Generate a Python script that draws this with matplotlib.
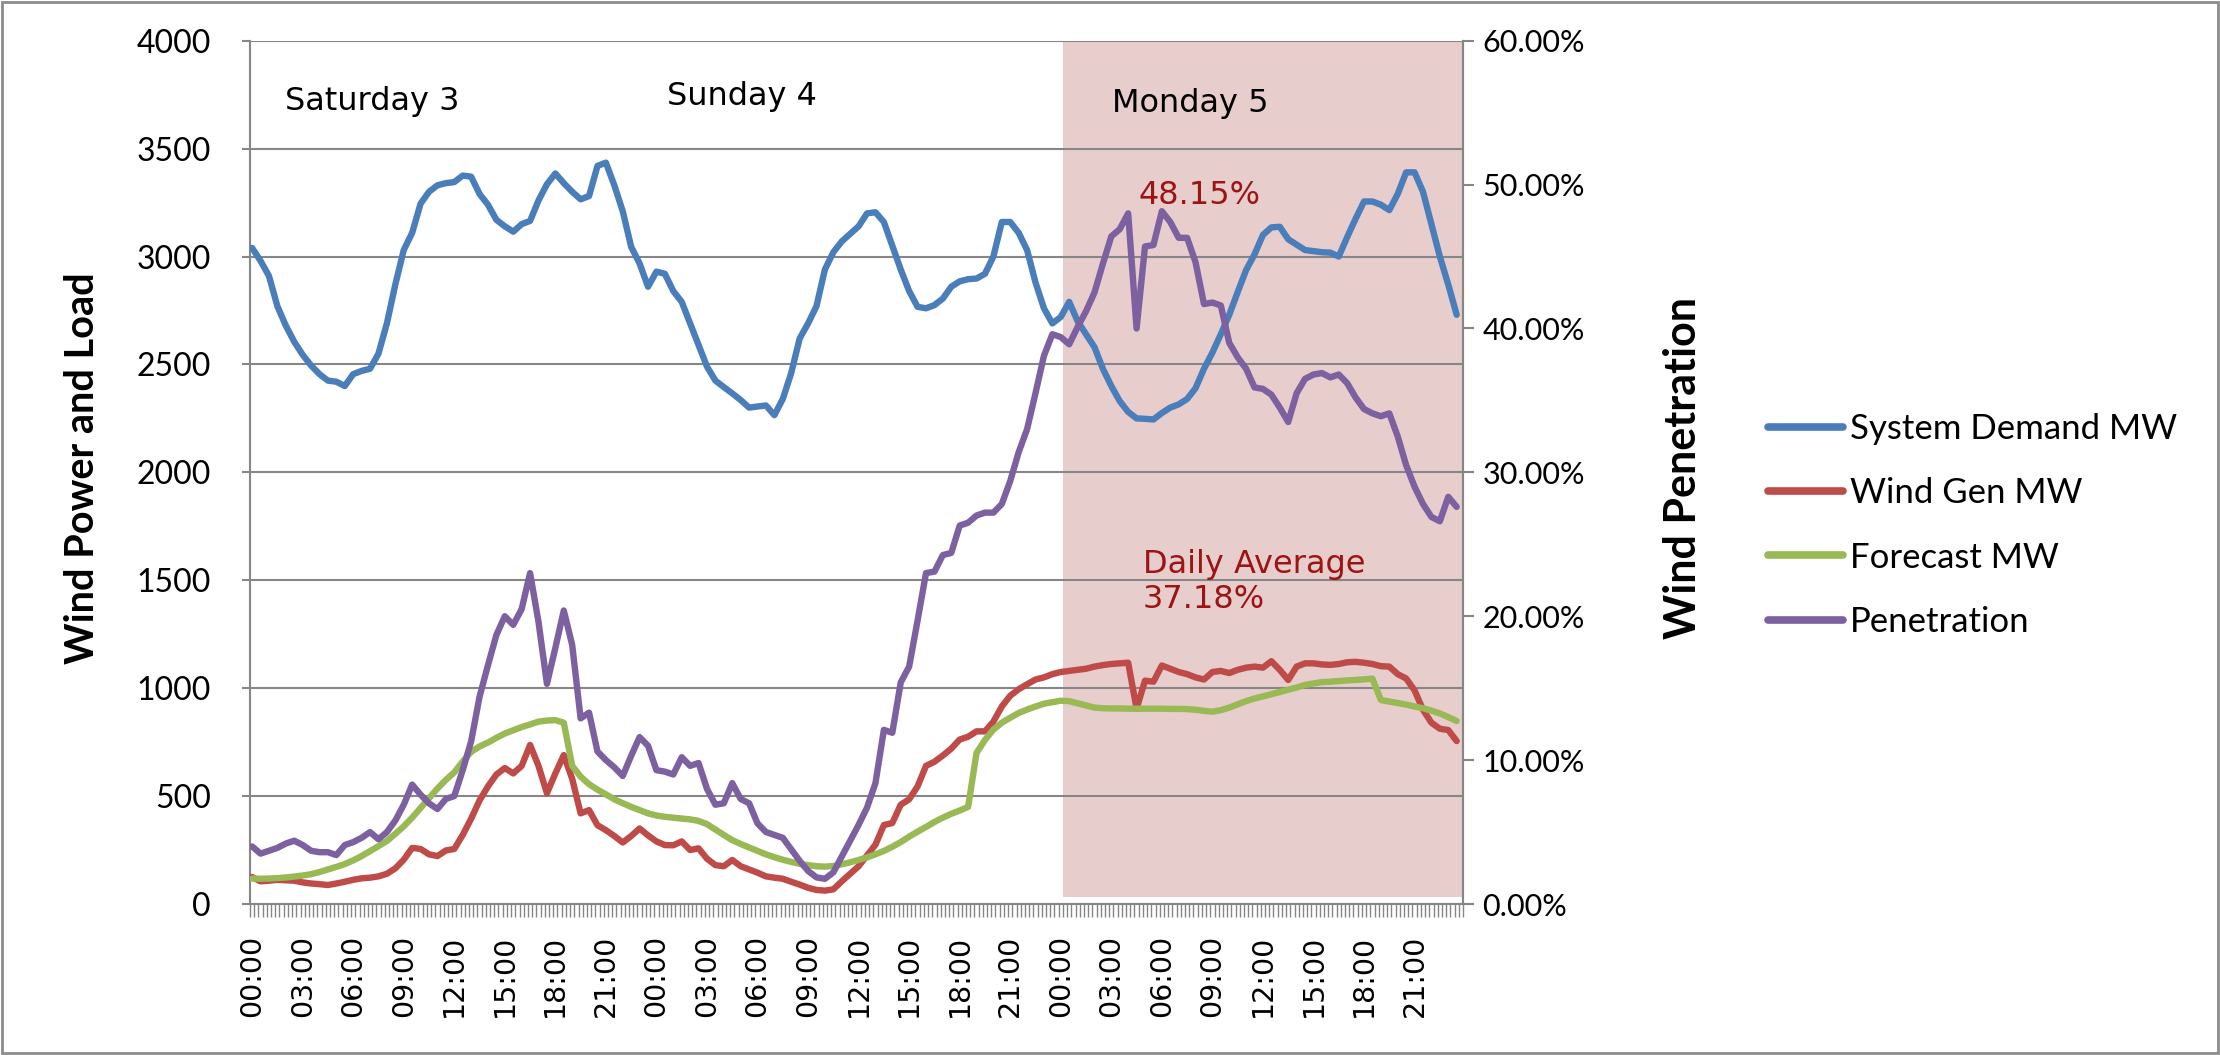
import numpy as np
import matplotlib
matplotlib.use("Agg")
import matplotlib.pyplot as plt
from matplotlib.patches import Rectangle
from matplotlib.ticker import FixedLocator, FuncFormatter

# ---------------------------------------------------------------------------
# Half-hourly readings, Saturday 3 00:00 through Monday 5 23:30 (144 values)
# ---------------------------------------------------------------------------
demand_mw = [
    # Saturday 3
    3040, 2980, 2910, 2770, 2680, 2605, 2545, 2495, 2455, 2425, 2420, 2400,
    2455, 2470, 2480, 2550, 2690, 2870, 3030, 3110, 3245, 3300, 3330, 3340,
    3345, 3375, 3370, 3290, 3240, 3170, 3140, 3115, 3150, 3165, 3260, 3335,
    3385, 3340, 3300, 3265, 3280, 3420, 3435, 3330, 3210, 3045, 2968, 2860,
    # Sunday 4
    2930, 2920, 2840, 2790, 2690, 2590, 2490, 2425, 2395, 2366, 2335, 2300,
    2305, 2310, 2265, 2340, 2460, 2620, 2690, 2770, 2940, 3020, 3070, 3105,
    3140, 3200, 3205, 3160, 3050, 2940, 2840, 2767, 2760, 2775, 2805, 2860,
    2885, 2895, 2898, 2920, 3000, 3160, 3160, 3110, 3030, 2880, 2760, 2690,
    # Monday 5
    2720, 2790, 2700, 2640, 2580, 2480, 2400, 2330, 2280, 2250, 2248, 2245,
    2275, 2300, 2315, 2340, 2390, 2480, 2555, 2640, 2730, 2835, 2937, 3010,
    3100, 3135, 3138, 3080, 3055, 3030, 3025, 3020, 3018, 3000, 3090, 3175,
    3255, 3255, 3240, 3215, 3290, 3390, 3390, 3300, 3150, 3000, 2870, 2730,
]

wind_gen_mw = [
    # Saturday 3
    125, 105, 108, 112, 110, 108, 100, 95, 92, 88, 95, 103,
    112, 119, 122, 128, 140, 165, 205, 260, 255, 230, 222, 248,
    255, 320, 395, 480, 545, 600, 630, 605, 640, 737, 640, 513,
    605, 690, 580, 420, 435, 365, 342, 315, 285, 315, 350, 318,
    # Sunday 4
    290, 273, 272, 290, 250, 258, 210, 180, 175, 204, 175, 160,
    145, 128, 122, 117, 103, 90, 75, 65, 62, 68, 105, 140,
    175, 225, 275, 366, 375, 460, 485, 545, 640, 659, 688, 720,
    762, 775, 800, 800, 845, 915, 965, 995, 1018, 1040, 1050, 1065,
    # Monday 5
    1075, 1080, 1085, 1090, 1100, 1107, 1112, 1115, 1118, 905, 1035, 1030,
    1105, 1090, 1075, 1065, 1050, 1040, 1075, 1080, 1070, 1085, 1095, 1100,
    1095, 1125, 1085, 1038, 1100, 1115, 1115, 1110, 1108, 1112, 1120, 1122,
    1118, 1112, 1102, 1100, 1065, 1045, 990, 900, 840, 812, 806, 755,
]

forecast_mw = [
    # Saturday 3
    118, 117, 118, 120, 123, 127, 132, 138, 148, 160, 172, 185,
    202, 222, 245, 268, 292, 325, 360, 400, 445, 490, 535, 575,
    610, 660, 705, 730, 748, 770, 790, 805, 820, 832, 845, 850,
    852, 840, 640, 590, 555, 530, 508, 485, 467, 450, 435, 420,
    # Sunday 4
    410, 404, 400, 396, 392, 385, 370, 345, 320, 296, 278, 262,
    246, 230, 217, 205, 195, 186, 180, 175, 173, 176, 184, 193,
    204, 216, 230, 246, 265, 287, 312, 335, 357, 380, 400, 418,
    433, 450, 700, 760, 808, 840, 863, 885, 901, 915, 928, 935,
    # Monday 5
    942, 940, 930, 920, 910, 907, 906, 906, 905, 905, 905, 905,
    905, 904, 904, 903, 900, 895, 891, 898, 910, 925, 940, 952,
    962, 972, 982, 993, 1003, 1015, 1022, 1028, 1030, 1033, 1036, 1038,
    1041, 1044, 945, 938, 931, 924, 915, 907, 896, 883, 866, 848,
]

penetration_pct = [
    # Saturday 3
    4.0, 3.5, 3.7, 3.9, 4.2, 4.4, 4.1, 3.7, 3.6, 3.6, 3.4, 4.1,
    4.3, 4.6, 5.0, 4.5, 5.0, 5.8, 6.9, 8.3, 7.6, 7.0, 6.6, 7.3,
    7.5, 9.3, 11.3, 14.4, 16.6, 18.7, 20.0, 19.4, 20.5, 23.0, 19.6, 15.3,
    17.8, 20.4, 18.0, 12.9, 13.3, 10.6, 10.0, 9.5, 8.9, 10.3, 11.6, 11.0,
    # Sunday 4
    9.3, 9.2, 9.0, 10.2, 9.6, 9.8, 8.0, 6.9, 7.0, 8.4, 7.3, 7.0,
    5.6, 5.0, 4.8, 4.6, 3.8, 3.0, 2.3, 1.85, 1.75, 2.2, 3.3, 4.4,
    5.5, 6.7, 8.4, 12.1, 11.9, 15.4, 16.5, 19.7, 23.0, 23.1, 24.25, 24.4,
    26.3, 26.5, 27.0, 27.2, 27.2, 27.8, 29.4, 31.4, 33.0, 35.5, 38.1, 39.6,
    # Monday 5
    39.4, 38.9, 40.1, 41.2, 42.5, 44.5, 46.4, 46.9, 48.0, 40.0, 45.7, 45.8,
    48.15, 47.4, 46.3, 46.3, 44.6, 41.7, 41.8, 41.6, 39.0, 38.0, 37.2, 35.9,
    35.8, 35.4, 34.5, 33.5, 35.5, 36.5, 36.8, 36.9, 36.6, 36.8, 36.2, 35.2,
    34.4, 34.1, 33.9, 34.1, 32.5, 30.5, 29.0, 27.8, 26.9, 26.6, 28.3, 27.6,
]

series_names = ["System Demand MW", "Wind Gen MW", "Forecast MW", "Penetration"]
day_names = ["Saturday 3", "Sunday 4", "Monday 5"]
hour_labels = ["00:00", "03:00", "06:00", "09:00", "12:00", "15:00", "18:00", "21:00"]
peak_label = "48.15%"
average_label = "Daily Average\n37.18%"

# ---------------------------------------------------------------------------
C_DEMAND = "#4a7ebb"
C_WIND = "#be4b48"
C_FORECAST = "#98b954"
C_PEN = "#7d60a0"
C_GRID = "#868686"
C_NOTE = "#9c1414"
C_SHADE = "#e8cdcd"

TICK_FONT = "Lato"
SLOTS_PER_DAY = 96            # 15-minute category slots on the axis
n_slots = SLOTS_PER_DAY * len(day_names)
x = np.arange(len(demand_mw)) * 2 + 0.5   # half-hour samples at slot centres

W, H = 2220, 1055
fig = plt.figure(figsize=(W / 100, H / 100), dpi=100)
fig.patch.set_facecolor("white")

left, right, top, bottom = 250, 1463, 40.7, 904
ax = fig.add_axes([left / W, 1 - bottom / H, (right - left) / W, (bottom - top) / H])
ax2 = ax.twinx()

# Monday highlight
ax.axvspan(SLOTS_PER_DAY * 2 + 1, n_slots, ymin=0.008, ymax=1.0,
           facecolor=C_SHADE, edgecolor="none", zorder=0.2)

lw = 4.6
style = dict(lw=lw, solid_joinstyle="round", solid_capstyle="round", zorder=3)
ax.plot(x, demand_mw, color=C_DEMAND, label=series_names[0], **style)
ax.plot(x, wind_gen_mw, color=C_WIND, label=series_names[1], **style)
ax.plot(x, forecast_mw, color=C_FORECAST, label=series_names[2], **style)
ax2.plot(x, penetration_pct, color=C_PEN, label=series_names[3], **style)

# primary axis
ax.set_xlim(0, n_slots)
ax.set_ylim(0, 4000)
ax.set_yticks(np.arange(0, 4001, 500))
ax.set_axisbelow(True)
ax.yaxis.grid(True, color=C_GRID, lw=1.5)
ax.xaxis.grid(False)
ax.spines["top"].set_visible(False)
for s in ["left", "bottom", "right"]:
    ax.spines[s].set_color(C_GRID)
    ax.spines[s].set_linewidth(1.5)
ax.tick_params(axis="y", which="major", length=6, width=1.5, color=C_GRID,
               pad=22, labelsize=23)
for t in ax.get_yticklabels():
    t.set_fontfamily(TICK_FONT)

# category axis: a tick between every slot, labels every 3 hours
ax.xaxis.set_minor_locator(FixedLocator(np.arange(0, n_slots + 1, 1)))
major_pos = np.arange(0, n_slots, 12) + 0.5
ax.set_xticks(major_pos)
ax.set_xticklabels(hour_labels * len(day_names), rotation=90,
                   fontfamily="DejaVu Sans", fontsize=20.5)
ax.tick_params(axis="x", which="minor", length=9.5, width=1.0, color=C_GRID)
ax.tick_params(axis="x", which="major", length=0, pad=22)

# secondary axis
ax2.set_ylim(0, 60)
ax2.set_yticks(np.arange(0, 61, 10))
ax2.yaxis.set_major_formatter(FuncFormatter(lambda v, p: f"{v:.2f}%"))
for s in ["top", "left", "bottom"]:
    ax2.spines[s].set_visible(False)
ax2.spines["right"].set_color(C_GRID)
ax2.spines["right"].set_linewidth(1.5)
ax2.tick_params(axis="y", length=8, width=1.5, color=C_GRID, pad=6, labelsize=22)
for t in ax2.get_yticklabels():
    t.set_fontfamily(TICK_FONT)

# axis titles
fig.text(83 / W, 1 - 468 / H, "Wind Power and Load", rotation=90,
         ha="center", va="center", fontsize=28.5, fontweight="bold", fontfamily=TICK_FONT)
fig.text(1683 / W, 1 - 468 / H, "Wind Penetration", rotation=90,
         ha="center", va="center", fontsize=31, fontweight="bold", fontfamily=TICK_FONT)

# day labels and notes (placed in pixel space of the figure)
def fig_text(px, py, s, **kw):
    fig.text(px / W, 1 - py / H, s, **kw)

day_px = [(285, 110), (667, 105), (1112, 112)]
for (px, py), name in zip(day_px, day_names):
    fig_text(px, py, name, ha="left", va="baseline", fontsize=23,
             fontfamily="DejaVu Sans", color="black")
fig_text(1138, 204, peak_label, ha="left", va="baseline", fontsize=23,
         fontfamily="DejaVu Sans", color=C_NOTE)
fig_text(1143, 608, average_label, ha="left", va="baseline", fontsize=23,
         fontfamily="DejaVu Sans", color=C_NOTE, linespacing=1.15)

# legend
handles = ax.get_lines() + ax2.get_lines()
leg = fig.legend(handles, series_names, loc="upper left",
                 bbox_to_anchor=(1768 / W, 1 - 413 / H), frameon=False,
                 prop={"family": TICK_FONT, "size": 25}, handlelength=2.15,
                 handletextpad=0.2, labelspacing=0.93, borderpad=0, borderaxespad=0)
for ln in leg.get_lines():
    ln.set_linewidth(5.5)
    ln.set_solid_capstyle("round")

# chart-area border
fig.patches.append(Rectangle((2 / W, 2 / H), (W - 4) / W, (H - 4) / H,
                             transform=fig.transFigure, fill=False,
                             edgecolor="#8c8c8c", lw=2))

fig.savefig("out.png", dpi=100, facecolor="white")
